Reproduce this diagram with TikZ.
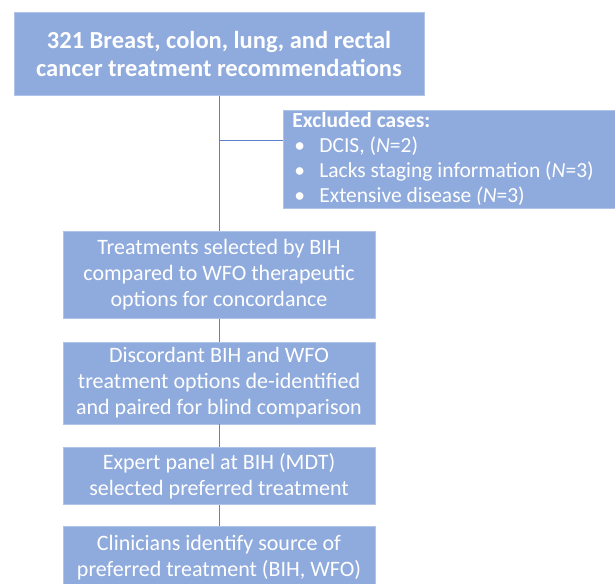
\documentclass[tikz,border=0pt]{standalone}
\usepackage{fontspec}
\setmainfont{Carlito}
\usepackage{xcolor}
\usetikzlibrary{positioning}
\definecolor{boxblue}{RGB}{143, 170, 220}
\definecolor{lineblue}{RGB}{92, 128, 204}
\def\boxtext{\fontsize{22}{26}\selectfont}
\tikzset{
box/.style={fill=boxblue, draw=boxblue!70!white, line width=0.8pt, text=white, align=center, inner sep=0pt, minimum width=312pt},
link/.style={lineblue, line width=0.8pt},
}

\begin{document}
\begin{tikzpicture}[x=1pt, y=1pt, node distance=23pt]
\useasboundingbox (0,0) rectangle (615,-583);
\clip (0,0) rectangle (615,-583);
%Place the nodes
\node[box, anchor=north, minimum width=410pt, minimum height=83pt, font=\bfseries\fontsize{24.5}{28}\selectfont] (top) at (219,-12) {321 Breast, colon, lung, and rectal\\cancer treatment recommendations};
\node[box, minimum height=87pt, font=\boxtext, below=135pt of top] (treat) {Treatments selected by BIH\\compared to WFO therapeutic\\options for concordance};
\node[box, minimum height=82pt, font=\boxtext, below=of treat] (disc) {Discordant BIH and WFO\\treatment options de-identified\\and paired for blind comparison};
\node[box, minimum height=57pt, font=\boxtext, below=of disc] (panel) {Expert panel at BIH (MDT)\\selected preferred treatment};
\node[box, minimum height=62pt, font=\boxtext, below=21pt of panel] (clin) {Clinicians identify source of\\preferred treatment (BIH, WFO)};

\node[box, anchor=north west, align=flush left, text width=322pt, minimum height=98pt, inner xsep=9pt, font=\fontsize{21.5}{25}\selectfont] (excl) at (283,-110) {\textbf{Excluded cases:}\\
\hspace*{2pt}\makebox[25pt][l]{\textbullet}DCIS, (\textit{N}=2)\\
\hspace*{2pt}\makebox[25pt][l]{\textbullet}Lacks staging information (\textit{N}=3)\\
\hspace*{2pt}\makebox[25pt][l]{\textbullet}Extensive disease \textit{(N}=3)};

%
\coordinate (br) at (219,-140);
\coordinate (brend) at (283,-140);
\draw[link] (top) to (treat);
\draw[link] (br) to (brend);
\draw[link] (treat) to (disc);
\draw[link] (disc) to (panel);
\draw[link] (panel) to (clin);

\end{tikzpicture}
\end{document}
